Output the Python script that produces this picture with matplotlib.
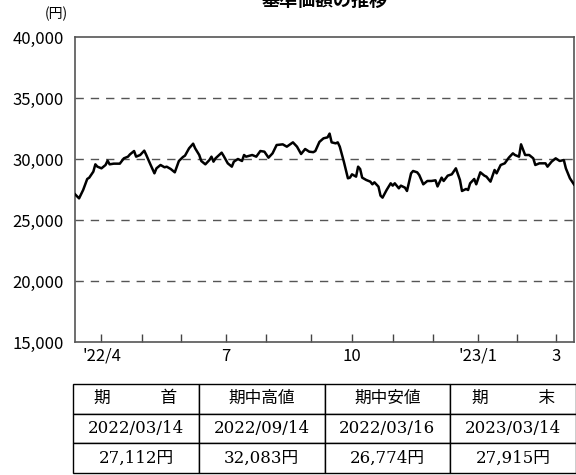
import numpy as np
import matplotlib
matplotlib.use("Agg")
import matplotlib.pyplot as plt

plt.rcParams['font.family'] = ['Noto Sans CJK JP', 'DejaVu Sans']

# ---- data ----
start_date = '2022-03-14'
holidays = ['2022-03-21', '2022-04-29', '2022-05-03', '2022-05-04', '2022-05-05',
            '2022-07-18', '2022-08-11', '2022-09-19', '2022-09-23', '2022-10-10',
            '2022-11-03', '2022-11-23', '2023-01-02', '2023-01-03', '2023-01-09',
            '2023-02-23']
# trading-day number since start_date
trading_day = [0, 2, 4, 6, 7, 9, 10, 11, 13, 15, 16, 17, 19, 22, 24, 26, 27, 29, 30, 32,
               34, 35, 37, 39, 40, 42, 44, 45, 47, 49, 51, 53, 54, 56, 58, 59, 61, 62, 64, 66,
               67, 68, 69, 72, 73, 75, 77, 78, 80, 82, 83, 84, 87, 89, 91, 93, 95, 97, 99, 102,
               104, 107, 109, 111, 113, 115, 117, 118, 120, 122, 124, 125, 126, 128, 129, 130,
               132, 134, 135, 136, 138, 139, 140, 141, 143, 145, 146, 147, 149, 150, 151, 153,
               155, 156, 157, 159, 160, 162, 163, 165, 166, 168, 169, 171, 173, 175, 177, 178,
               180, 181, 183, 185, 187, 189, 190, 192, 193, 194, 196, 197, 199, 201, 202, 204,
               206, 207, 209, 211, 213, 215, 216, 218, 219, 221, 223, 225, 226, 228, 231, 232,
               234, 236, 238, 240, 241, 243, 245]
nav = [27112, 26774, 27461, 28362, 28471, 28963, 29563, 29372, 29236, 29509, 29863, 29563,
       29618, 29618, 30055, 30191, 30382, 30655, 30191, 30328, 30683, 30328, 29563, 28826,
       29236, 29509, 29318, 29372, 29181, 28908, 29836, 30164, 30273, 30874, 31256, 30874,
       30328, 29836, 29563, 29918, 30191, 29782, 30055, 30519, 30246, 29645, 29372, 29782,
       30000, 29836, 30328, 30191, 30328, 30191, 30655, 30601, 30109, 30464, 31147, 31201,
       31010, 31365, 31010, 30410, 30819, 30600, 30560, 30655, 31400, 31693, 31775, 32083,
       31365, 31283, 31365, 31010, 29782, 28417, 28471, 28744, 28553, 29372, 29181, 28471,
       28280, 28144, 27925, 28089, 27734, 26997, 26833, 27461, 28007, 27816, 28007, 27598,
       27816, 27652, 27379, 28826, 29017, 28908, 28690, 27925, 28198, 28200, 28253, 27750,
       28471, 28198, 28635, 28744, 29236, 28280, 27379, 27543, 27461, 28007, 28362, 27925,
       28908, 28635, 28553, 28144, 29099, 28826, 29509, 29645, 30109, 30464, 30328, 30191,
       31201, 30328, 30328, 30055, 29509, 29645, 29645, 29372, 29782, 30055, 29836, 29918,
       29236, 28417, 27915]
month_starts = ['2022-04-01', '2022-05-01', '2022-06-01', '2022-07-01', '2022-08-01',
                '2022-09-01', '2022-10-01', '2022-11-01', '2022-12-01', '2023-01-01',
                '2023-02-01', '2023-03-01']
month_labels = ["'22/4", '', '', '7', '', '', '10', '', '', "'23/1", '', '3']
end_date = '2023-03-14'
yticks = [15000, 20000, 25000, 30000, 35000, 40000]
grid_vals = [20000, 25000, 30000, 35000]

table_header = ['期　　　首', '期中高値', '期中安値', '期　　　末']
table_dates = ['2022/03/14', '2022/09/14', '2022/03/16', '2023/03/14']
table_values = ['27,112円', '32,083円', '26,774円', '27,915円']

# ---- figure ----
W, H = 576, 475
fig = plt.figure(figsize=(W / 100, H / 100), dpi=100)

def px(x0, y0, x1, y1):
    return [x0 / W, 1 - y1 / H, (x1 - x0) / W, (y1 - y0) / H]

ax = fig.add_axes(px(75, 37, 574, 342))

def bidx(d):
    d0 = np.datetime64(d)
    d1 = np.busday_offset(d0, 0, roll='forward', holidays=holidays)
    return np.busday_count(np.datetime64(start_date), d1, holidays=holidays)

end_idx = bidx(end_date)
ax.plot(trading_day, nav, color='black', lw=1.8, solid_joinstyle='round', zorder=3)

for g in grid_vals:
    ax.axhline(g, color='#555555', lw=1.0, dashes=(6, 5), zorder=1)

ax.set_xlim(0, end_idx)
ax.set_ylim(15000, 40000)
ax.set_yticks(yticks)
ax.set_yticklabels([f'{v:,}' for v in yticks], fontsize=12)
ax.tick_params(axis='y', length=0, pad=8)

tick_pos = [bidx(m) for m in month_starts]
ax.set_xticks(tick_pos)
ax.set_xticklabels(month_labels, fontsize=12)
ax.tick_params(axis='x', direction='in', length=6, width=1, color='#444444', pad=4)

for s in ax.spines.values():
    s.set_color('#555555')
    s.set_linewidth(1.2)

fig.text(68 / W, 1 - 14 / H, '(円)', ha='right', va='center', fontsize=10)
fig.text(325 / W, 1 - 0 / H, '基準価額の推移', ha='center', va='center', fontsize=13,
         fontweight='bold')

# ---- table ----
tax = fig.add_axes(px(73, 384, 576, 473))
tax.axis('off')
tbl = tax.table(cellText=[table_header, table_dates, table_values],
                cellLoc='center', bbox=[0, 0, 1, 1])
tbl.auto_set_font_size(False)
for (r, c), cell in tbl.get_celld().items():
    cell.set_edgecolor('black')
    cell.set_linewidth(1.0)
    cell.get_text().set_fontsize(12)
    cell.get_text().set_fontfamily(['DejaVu Serif', 'Noto Sans CJK JP'])

fig.savefig('out.png', dpi=100)
